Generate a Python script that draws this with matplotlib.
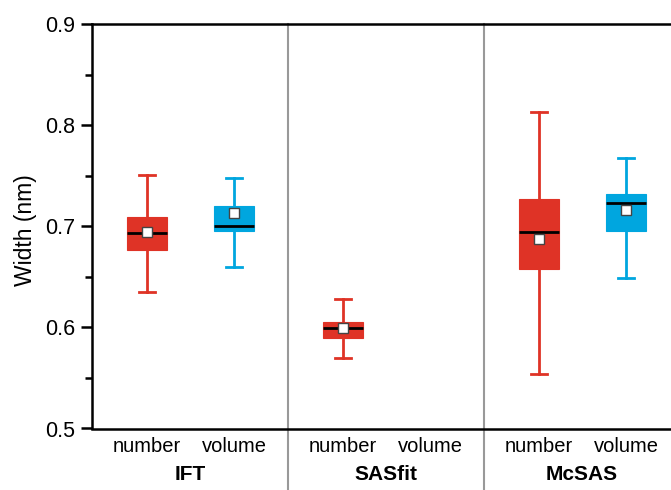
import matplotlib
matplotlib.use("Agg")
import matplotlib.pyplot as plt
from matplotlib.ticker import MultipleLocator, FormatStrFormatter
import matplotlib.transforms as mtransforms

plt.rcParams['font.family'] = ['Liberation Sans', 'DejaVu Sans']

groups = ["IFT", "SASfit", "McSAS"]
kinds = ["number", "volume"]

# (group index, kind index): stats
series_group = [0, 0, 1, 2, 2]
series_kind = [0, 1, 0, 0, 1]
whislo = [0.635, 0.660, 0.570, 0.554, 0.649]
q1 = [0.677, 0.695, 0.589, 0.658, 0.695]
med = [0.693, 0.700, 0.599, 0.694, 0.723]
mean = [0.694, 0.713, 0.599, 0.687, 0.716]
q3 = [0.709, 0.720, 0.605, 0.727, 0.732]
whishi = [0.751, 0.748, 0.628, 0.813, 0.767]

kind_colors = ["#DF3326", "#00A6DF"]
kind_offset = [0.28, 0.725]

fig = plt.figure(figsize=(6.71, 4.90), dpi=100)
ax = fig.add_axes([92/671, 1 - 428.5/490, 588/671, 404.5/490])

for i in range(len(med)):
    st = [dict(med=med[i], q1=q1[i], q3=q3[i], whislo=whislo[i], whishi=whishi[i],
               mean=mean[i], fliers=[])]
    c = kind_colors[series_kind[i]]
    pos = series_group[i] + kind_offset[series_kind[i]]
    ax.bxp(st, positions=[pos], widths=0.207, patch_artist=True, showmeans=True,
           showfliers=False, manage_ticks=False,
           boxprops=dict(facecolor=c, edgecolor=c, linewidth=0.8),
           whiskerprops=dict(color=c, linewidth=2),
           capprops=dict(color=c, linewidth=2),
           capwidths=0.085,
           medianprops=dict(color='black', linewidth=2),
           meanprops=dict(marker='s', markerfacecolor='white', markeredgecolor='#444444',
                          markersize=7, markeredgewidth=1))

ax.set_xlim(0, 3)
ax.set_ylim(0.5, 0.9)
ax.yaxis.set_major_locator(MultipleLocator(0.1))
ax.yaxis.set_minor_locator(MultipleLocator(0.05))
ax.yaxis.set_major_formatter(FormatStrFormatter('%.1f'))
ax.tick_params(axis='y', which='major', direction='out', length=8, width=1.8,
               labelsize=15.5, pad=4)
ax.tick_params(axis='y', which='minor', direction='out', length=5, width=1.8)
ax.set_xticks([])
for s in ['left', 'bottom', 'top']:
    ax.spines[s].set_linewidth(1.8)
    ax.spines[s].set_color('black')
ax.spines['right'].set_visible(False)

ax.set_ylabel("Width (nm)", fontsize=16.5)
ax.yaxis.set_label_coords(-0.094, 0.49)

for x in [1, 2]:
    ax.axvline(x, ymin=-0.16, ymax=1, color='#999999', linewidth=1.5,
               clip_on=False, zorder=0)

trans = mtransforms.blended_transform_factory(ax.transData, fig.transFigure)
for g in range(3):
    for k in range(2):
        ax.text(g + kind_offset[k], 1 - 451.7/490, kinds[k], transform=trans,
                ha='center', va='baseline', fontsize=14.5)
    ax.text(g + 0.5, 1 - 480/490, groups[g], transform=trans,
            ha='center', va='baseline', fontsize=15, fontweight='bold')

fig.savefig("out.png", dpi=100)
